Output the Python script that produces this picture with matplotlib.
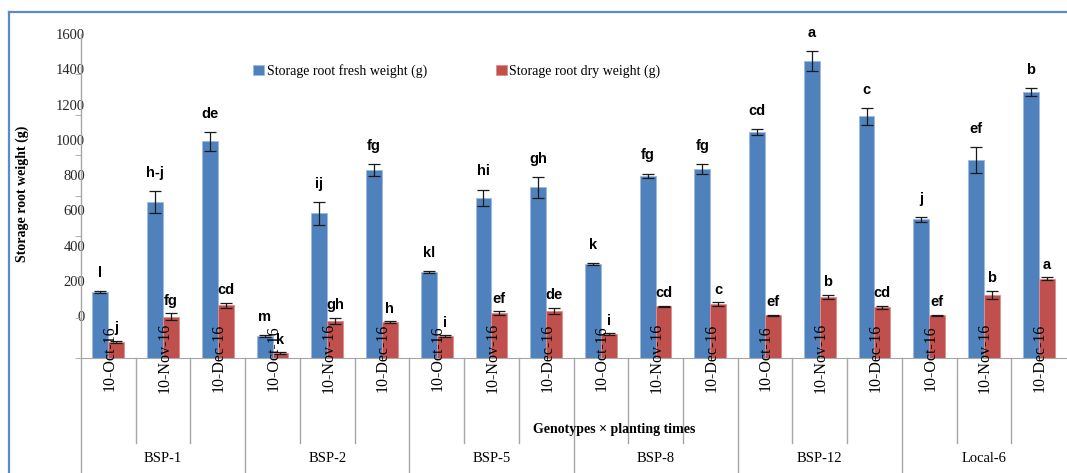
import matplotlib.pyplot as plt
import numpy as np
from matplotlib.lines import Line2D

# data
genotypes = ['BSP-1', 'BSP-2', 'BSP-5', 'BSP-8', 'BSP-12', 'Local-6']
dates = ['10-Oct-16', '10-Nov-16', '10-Dec-16']

fresh = [327, 769, 1070, 108, 714, 928, 425, 792, 843,
         464, 899, 933, 1114, 1467, 1193, 685, 978, 1312]
fresh_err = [5, 55, 48, 6, 58, 31, 4, 40, 51,
             5, 12, 25, 15, 48, 40, 12, 62, 19]
dry = [80, 204, 260, 23, 183, 176, 109, 221, 232,
       118, 255, 267, 211, 301, 250, 211, 311, 392]
dry_err = [4, 16, 12, 5, 15, 5, 3, 11, 16,
           3, 4, 8, 3, 12, 9, 3, 21, 8]
fresh_letters = ['l', 'h-j', 'de', 'm', 'ij', 'fg', 'kl', 'hi', 'gh',
                 'k', 'fg', 'fg', 'cd', 'a', 'c', 'j', 'ef', 'b']
dry_letters = ['j', 'fg', 'cd', 'k', 'gh', 'h', 'i', 'ef', 'de',
               'i', 'cd', 'c', 'ef', 'b', 'cd', 'ef', 'b', 'a']
ytick_labels = [str(v) for v in range(0, 1601, 200)]

W, H = 1067, 473
fig = plt.figure(figsize=(W / 100, H / 100), dpi=100)


def fx(px):
    return px / W


def fy(py):
    return 1 - py / H


serif = 'Liberation Serif'
grey = '#A6A6A6'

ax = fig.add_axes([fx(81), fy(358), fx(1066) - fx(81), fy(34) - fy(358)])

x = np.arange(len(fresh))
bw = 0.29
ekw = dict(elinewidth=0.9, ecolor='#1a1a1a', capthick=0.9)
b1 = ax.bar(x - bw / 2, fresh, bw, color='#4F81BD', edgecolor='#9DBBE0', linewidth=0.6,
            yerr=fresh_err, capsize=4, error_kw=ekw, label='Storage root fresh weight (g)')
b2 = ax.bar(x + bw / 2, dry, bw, color='#C0504D', edgecolor='#DE8E8C', linewidth=0.6,
            yerr=dry_err, capsize=4, error_kw=ekw, label='Storage root dry weight (g)')

# significance letters
for i in range(len(x)):
    ax.annotate(fresh_letters[i], (x[i] - bw / 2, fresh[i] + fresh_err[i]), xytext=(0, 13),
                textcoords='offset points', ha='center', va='center',
                fontsize=10.5, fontweight='bold', family='Liberation Sans', zorder=6)
    ax.annotate(dry_letters[i], (x[i] + bw / 2, dry[i] + dry_err[i]), xytext=(0, 9),
                textcoords='offset points', ha='center', va='center',
                fontsize=10.5, fontweight='bold', family='Liberation Sans', zorder=6)

ax.set_xlim(-0.5, 17.5)
ax.set_ylim(0, 1600)
for s in ['top', 'right', 'left']:
    ax.spines[s].set_visible(False)
ax.spines['bottom'].set_color(grey)
ax.set_xticks([])

# y axis: labels sit where the reference drew them, tick marks at the real 200 steps
ax.set_yticks(np.linspace(207, 1600, 9))
ax.set_yticklabels(ytick_labels, family=serif, fontsize=10.5, color='#262626')
ax.tick_params(axis='y', which='major', length=0, pad=-3)
ax.set_yticks(np.arange(0, 1601, 200), minor=True)
ax.tick_params(axis='y', which='minor', length=4, color=grey, direction='out')

xt = ax.get_xaxis_transform()
ax.plot([-0.5, -0.5], [-0.352, 1], transform=xt, clip_on=False, color=grey, lw=1)
for b in range(1, 18):
    low = -0.352 if b % 3 == 0 else -0.262
    ax.plot([b - 0.5, b - 0.5], [0, low], transform=xt, clip_on=False, color=grey, lw=1)

# two-level category labels
for i in range(len(x)):
    ax.text(x[i] + 0.02, 0.0, dates[i % 3], rotation=90, transform=xt, ha='center', va='center',
            family=serif, fontsize=11.5, zorder=5)
for g, name in enumerate(genotypes):
    ax.text(3 * g + 1, -0.309, name, transform=xt, ha='center', va='center',
            family=serif, fontsize=10.5)

ax.text(0.5417, -0.222, 'Genotypes × planting times', transform=ax.transAxes,
        ha='center', va='center', family=serif, fontsize=10, fontweight='bold')
fig.text(fx(22), fy(194), 'Storage root weight (g)', rotation=90, ha='center', va='center',
         family=serif, fontsize=10, fontweight='bold')

ax.legend(handles=[b1, b2], loc='center', bbox_to_anchor=(fx(457), fy(71)),
          bbox_transform=fig.transFigure, ncol=2, frameon=False,
          handlelength=0.75, handleheight=0.75, handletextpad=0.2, columnspacing=5.0,
          prop={'family': serif, 'size': 10})

# outer chart frame
frame = '#5B8BC9'
fig.add_artist(Line2D([fx(9), 1], [fy(12), fy(12)], transform=fig.transFigure, color=frame, lw=1.6))
fig.add_artist(Line2D([fx(9), fx(9)], [fy(12), 0], transform=fig.transFigure, color=frame, lw=1.6))

fig.savefig('out.png', dpi=100)
